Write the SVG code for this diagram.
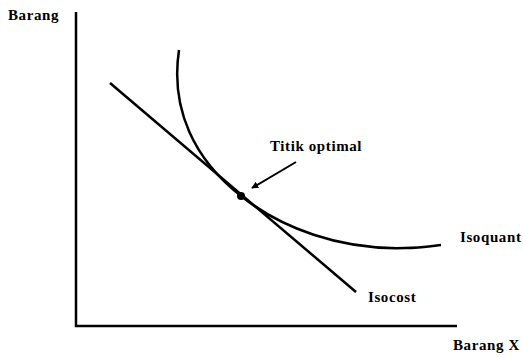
<svg xmlns="http://www.w3.org/2000/svg" width="523" height="357" viewBox="0 0 523 357">
<style>
.ln{stroke:#000;stroke-width:2.5;fill:none}
.t{font-family:"Liberation Serif","Times New Roman",serif;font-weight:bold;font-size:15px;letter-spacing:0.6px;fill:#000}
</style>
<defs>
<marker id="ah" viewBox="0 0 10 10" refX="9" refY="5" markerWidth="7" markerHeight="7" orient="auto" markerUnits="userSpaceOnUse">
<path d="M0,0 L10,5 L0,10 z" fill="#000"/>
</marker>
</defs>
<rect width="523" height="357" fill="#fff"/>
<g id="axes">
<path class="ln" d="M76,12 V326 H457"/>
</g>
<g id="isocost">
<line class="ln" x1="110" y1="83" x2="356" y2="292"/>
</g>
<g id="isoquant">
<path class="ln" d="M179,50 C170,110 195,160 241,196 C281,228 340,250 405,248 C420,248 432,246 441,245"/>
</g>
<g id="optimal">
<circle cx="241" cy="196" r="4" fill="#000"/>
</g>
<g id="connectors">
<line x1="296" y1="162" x2="252" y2="188" stroke="#000" stroke-width="2" marker-end="url(#ah)"/>
</g>
<g id="labels">
<text class="t" x="8" y="20">Barang</text>
<text class="t" x="453" y="350">Barang X</text>
<text class="t" x="270" y="151">Titik optimal</text>
<text class="t" x="460" y="242">Isoquant</text>
<text class="t" x="368" y="302">Isocost</text>
</g>
</svg>
